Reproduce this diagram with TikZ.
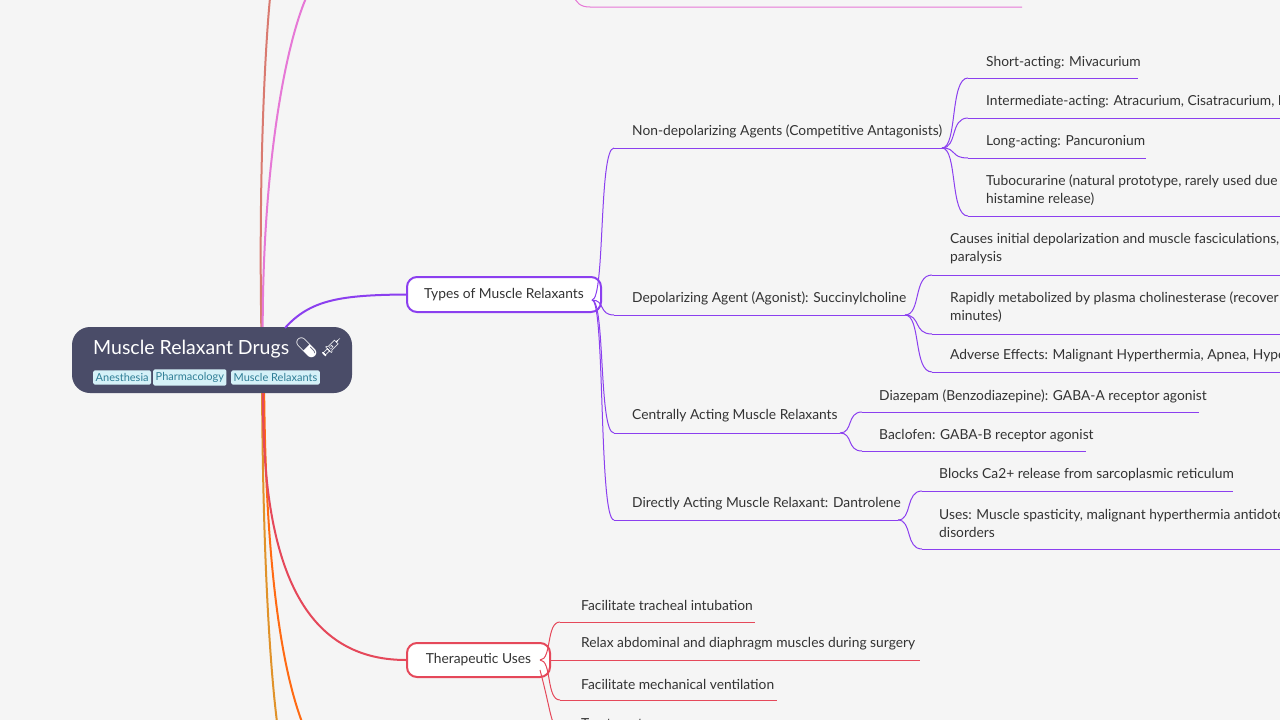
\documentclass[tikz,border=0pt]{standalone}
\usepackage{fontspec}
\setmainfont{Lato}
\newfontfamily\emo{Noto Emoji}
\definecolor{bg}{HTML}{F5F5F5}
\definecolor{rootc}{HTML}{4A4C68}
\definecolor{pur}{HTML}{8B3FEF}
\definecolor{redc}{HTML}{E5485A}
\definecolor{pinkc}{HTML}{E678D6}
\definecolor{brownc}{HTML}{D97A70}
\definecolor{orac}{HTML}{FF6A13}
\definecolor{goldc}{HTML}{E0922A}
\definecolor{tagbg}{HTML}{D5F1F8}
\definecolor{tagfg}{HTML}{2F7E96}
\definecolor{txt}{HTML}{333333}
\tikzset{
 lbl/.style={anchor=west,inner sep=0pt,text=txt,font=\fontsize{13.8}{18}\selectfont,align=left},
 tag/.style={fill=tagbg,text=tagfg,inner xsep=2.5pt,inner ysep=3pt,rounded corners=1.5pt,font=\fontsize{11}{12}\selectfont,anchor=west},
 sub/.style={draw,line width=2pt,fill=white,rounded corners=10pt,text=txt,font=\fontsize{13.8}{16}\selectfont,inner sep=0pt},
 pl/.style={pur,line width=1pt},
 rl/.style={redc,line width=1pt}
}
\newcommand{\conn}[5]{% style, px,py, ux,uy
 \draw[#1] (#2,#3) .. controls ({#2+0.6*(#4-#2)},#3) and ({#2+0.3*(#4-#2)},#5) .. (#4,#5);}
\begin{document}
\begin{tikzpicture}[x=1pt,y=-1pt]
\fill[bg] (0,0) rectangle (1280,720);
\useasboundingbox (0,0) rectangle (1280,720);
\clip (0,0) rectangle (1280,720);
% main branches
\draw[brownc,line width=2pt] (262,360) .. controls (258,200) and (264,60) .. (270,-2);
\draw[pinkc,line width=2pt] (263,360) .. controls (260,200) and (280,60) .. (306,-2);
\draw[pinkc,line width=1pt] (560,-40) .. controls (575,-10) and (570,7) .. (590,7) -- (1022,7);
\draw[goldc,line width=2pt] (262,360) .. controls (262,520) and (268,650) .. (277,722);
\draw[orac,line width=2pt] (264,360) .. controls (264,520) and (275,650) .. (302,722);
% root
\node[fill=rootc,rounded corners=18pt,minimum width=280pt,minimum height=66pt,inner sep=0pt] (root) at (212,360) {};
\node[anchor=west,text=white,inner sep=0pt,font=\fontsize{19.5}{22}\selectfont] (title) at (93,348) {Muscle Relaxant Drugs {\emo 💊💉}};
\node[tag] (t1) at (93,377.5) {Anesthesia};
\node[tag] (t2) at (153,377.5) {Pharmacology};
\node[tag] (t3) at (231,377.5) {Muscle Relaxants};
% sub nodes
\node[sub,draw=pur,minimum width=194pt,minimum height=35pt] (types) at (504,294.5) {Types of Muscle Relaxants};
\node[sub,draw=redc,minimum width=143pt,minimum height=34pt] (ther) at (478.5,660) {Therapeutic Uses};
\draw[pur,line width=2pt] (285,328) .. controls (310,300) and (340,295) .. (types.west);
\draw[redc,line width=2pt] (263,393) .. controls (262,560) and (300,660) .. (ther.west);
% level 2 types
\node[lbl] (nd) at (632,131) {Non-depolarizing Agents (Competitive Antagonists)};
\node[lbl] (dp) at (632,298) {Depolarizing Agent (Agonist): Succinylcholine};
\node[lbl] (ca) at (632,416) {Centrally Acting Muscle Relaxants};
\node[lbl] (da) at (632,504) {Directly Acting Muscle Relaxant: Dantrolene};
\conn{pl}{592}{300}{614}{148}\draw[pl] (614,148) -- (942,148);
\conn{pl}{592}{300}{614}{315}\draw[pl] (614,315) -- (905,315);
\conn{pl}{592}{300}{614}{433}\draw[pl] (614,433) -- (840,433);
\conn{pl}{592}{300}{614}{520}\draw[pl] (614,520) -- (898,520);
% level 3 nd
\node[lbl] (a1) at (986,63) {Short-acting: Mivacurium};
\node[lbl] (a2) at (986,102) {Intermediate-acting: Atracurium, Cisatracurium, R};
\node[lbl] (a3) at (986,142) {Long-acting: Pancuronium};
\node[lbl] (a4) at (986,190) {Tubocurarine (natural prototype, rarely used due\\histamine release)};
\conn{pl}{942}{148}{968}{78}\draw[pl] (968,78) -- (1138,78);
\conn{pl}{942}{148}{968}{118}\draw[pl] (968,118) -- (1290,118);
\conn{pl}{942}{148}{968}{158}\draw[pl] (968,158) -- (1146,158);
\conn{pl}{942}{148}{968}{216}\draw[pl] (968,216) -- (1290,216);
% dp
\node[lbl] (b1) at (950,249) {Causes initial depolarization and muscle fasciculations,\\paralysis};
\node[lbl] (b2) at (950,307) {Rapidly metabolized by plasma cholinesterase (recover\\minutes)};
\node[lbl] (b3) at (950,356) {Adverse Effects: Malignant Hyperthermia, Apnea, Hyper};
\conn{pl}{905}{315}{932}{275}\draw[pl] (932,275) -- (1290,275);
\conn{pl}{905}{315}{932}{334}\draw[pl] (932,334) -- (1290,334);
\conn{pl}{905}{315}{932}{372}\draw[pl] (932,372) -- (1290,372);
% ca
\node[lbl] (c1) at (879,396) {Diazepam (Benzodiazepine): GABA-A receptor agonist};
\node[lbl] (c2) at (879,436) {Baclofen: GABA-B receptor agonist};
\conn{pl}{840}{433}{862}{412}\draw[pl] (862,412) -- (1199,412);
\conn{pl}{840}{433}{862}{451}\draw[pl] (862,451) -- (1086,451);
% da
\node[lbl] (d1) at (939,475) {Blocks Ca2+ release from sarcoplasmic reticulum};
\node[lbl] (d2) at (939,523) {Uses: Muscle spasticity, malignant hyperthermia antidote\\disorders};
\conn{pl}{898}{520}{922}{491}\draw[pl] (922,491) -- (1233,491);
\conn{pl}{898}{520}{922}{549}\draw[pl] (922,549) -- (1290,549);
% therapeutic
\node[lbl] (e1) at (581,605) {Facilitate tracheal intubation};
\node[lbl] (e2) at (581,644) {Relax abdominal and diaphragm muscles during surgery};
\node[lbl] (e3) at (581,684) {Facilitate mechanical ventilation};
\node[lbl] (e4) at (581,724) {Treatment o};
\conn{rl}{540}{660}{560}{622}\draw[rl] (560,622) -- (755,622);
\draw[rl] (550,660) -- (920,660);
\conn{rl}{540}{660}{560}{700}\draw[rl] (560,700) -- (777,700);
\draw[rl] (540,670) .. controls (548,700) and (550,715) .. (553,722);
\end{tikzpicture}
\end{document}
